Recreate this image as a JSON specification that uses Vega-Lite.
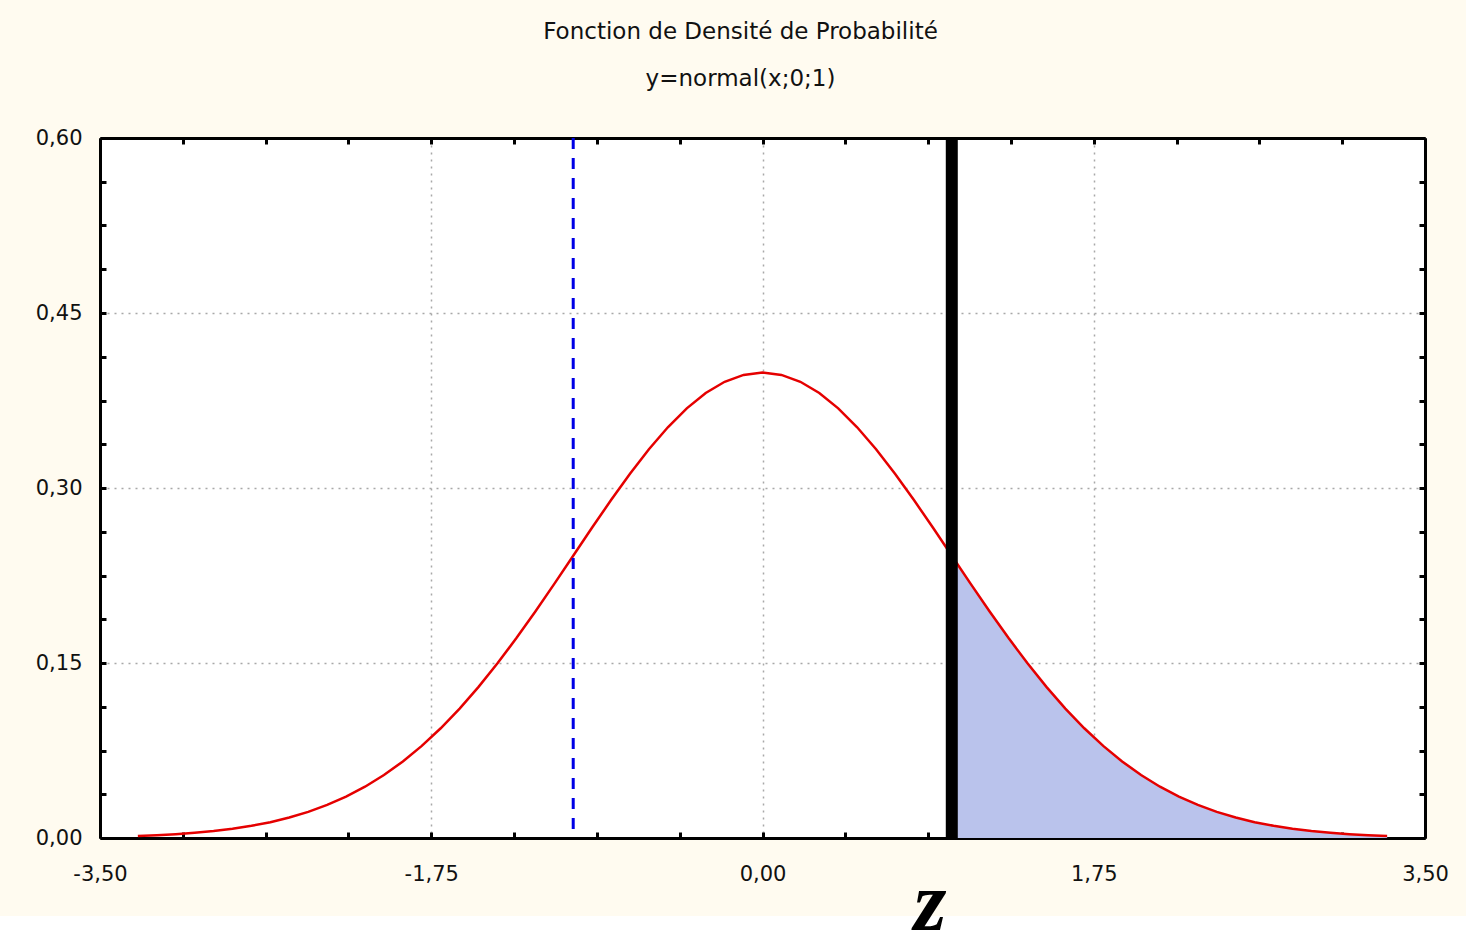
{
  "$schema": "https://vega.github.io/schema/vega-lite/v6.json",
  "width": 1325,
  "height": 700,
  "autosize": "none",
  "padding": {"left": 100, "top": 138, "right": 41, "bottom": 113},
  "background": "#fffbf0",
  "config": {
    "view": {"stroke": null, "fill": "#ffffff"},
    "font": "DejaVu Sans"
  },
  "title": {
    "text": "Fonction de Densité de Probabilité",
    "subtitle": "y=normal(x;0;1)",
    "font": "DejaVu Sans",
    "fontSize": 23,
    "fontWeight": "normal",
    "color": "#111111",
    "subtitleFont": "DejaVu Sans",
    "subtitleFontSize": 23,
    "subtitleColor": "#111111",
    "subtitlePadding": 24,
    "anchor": "middle",
    "offset": 36,
    "dx": -22
  },
  "datasets": {
    "curve": [
      {"x": -3.3, "y": 0.00172}, {"x": -3.2, "y": 0.00238}, {"x": -3.1, "y": 0.00327}, {"x": -3.0, "y": 0.00443},
      {"x": -2.9, "y": 0.00595}, {"x": -2.8, "y": 0.00792}, {"x": -2.7, "y": 0.01042}, {"x": -2.6, "y": 0.01358},
      {"x": -2.5, "y": 0.01753}, {"x": -2.4, "y": 0.02239}, {"x": -2.3, "y": 0.02833}, {"x": -2.2, "y": 0.03547},
      {"x": -2.1, "y": 0.04398}, {"x": -2.0, "y": 0.05399}, {"x": -1.9, "y": 0.06562}, {"x": -1.8, "y": 0.07895},
      {"x": -1.7, "y": 0.09405}, {"x": -1.6, "y": 0.11092}, {"x": -1.5, "y": 0.12952}, {"x": -1.4, "y": 0.14973},
      {"x": -1.3, "y": 0.17137}, {"x": -1.2, "y": 0.19419}, {"x": -1.1, "y": 0.21785}, {"x": -1.0, "y": 0.24197},
      {"x": -0.9, "y": 0.26609}, {"x": -0.8, "y": 0.28969}, {"x": -0.7, "y": 0.31225}, {"x": -0.6, "y": 0.33322},
      {"x": -0.5, "y": 0.35207}, {"x": -0.4, "y": 0.36827}, {"x": -0.3, "y": 0.38139}, {"x": -0.2, "y": 0.39104},
      {"x": -0.1, "y": 0.39695}, {"x": 0.0, "y": 0.39894}, {"x": 0.1, "y": 0.39695}, {"x": 0.2, "y": 0.39104},
      {"x": 0.3, "y": 0.38139}, {"x": 0.4, "y": 0.36827}, {"x": 0.5, "y": 0.35207}, {"x": 0.6, "y": 0.33322},
      {"x": 0.7, "y": 0.31225}, {"x": 0.8, "y": 0.28969}, {"x": 0.9, "y": 0.26609}, {"x": 1.0, "y": 0.24197},
      {"x": 1.1, "y": 0.21785}, {"x": 1.2, "y": 0.19419}, {"x": 1.3, "y": 0.17137}, {"x": 1.4, "y": 0.14973},
      {"x": 1.5, "y": 0.12952}, {"x": 1.6, "y": 0.11092}, {"x": 1.7, "y": 0.09405}, {"x": 1.8, "y": 0.07895},
      {"x": 1.9, "y": 0.06562}, {"x": 2.0, "y": 0.05399}, {"x": 2.1, "y": 0.04398}, {"x": 2.2, "y": 0.03547},
      {"x": 2.3, "y": 0.02833}, {"x": 2.4, "y": 0.02239}, {"x": 2.5, "y": 0.01753}, {"x": 2.6, "y": 0.01358},
      {"x": 2.7, "y": 0.01042}, {"x": 2.8, "y": 0.00792}, {"x": 2.9, "y": 0.00595}, {"x": 3.0, "y": 0.00443},
      {"x": 3.1, "y": 0.00327}, {"x": 3.2, "y": 0.00238}, {"x": 3.3, "y": 0.00172}
    ],
    "one": [{}]
  },
  "layer": [
    {
      "data": {"name": "curve"},
      "transform": [{"filter": "datum.x >= 1"}],
      "mark": {"type": "area", "color": "#bac3ec", "opacity": 1},
      "encoding": {
        "x": {
          "field": "x", "type": "quantitative",
          "scale": {"domain": [-3.5, 3.5], "nice": false, "zero": false},
          "axis": {
            "orient": "top", "title": null, "labels": false, "grid": false,
            "values": [-3.5, -3.0625, -2.625, -2.1875, -1.75, -1.3125, -0.875, -0.4375, 0, 0.4375, 0.875, 1.3125, 1.75, 2.1875, 2.625, 3.0625, 3.5],
            "domainColor": "#000000", "domainWidth": 3,
            "tickColor": "#000000", "tickWidth": 3, "tickSize": -6
          }
        },
        "y": {
          "field": "y", "type": "quantitative",
          "scale": {"domain": [0, 0.6], "nice": false, "zero": false},
          "axis": {
            "orient": "right", "title": null, "labels": false, "grid": false,
            "values": [0, 0.0375, 0.075, 0.1125, 0.15, 0.1875, 0.225, 0.2625, 0.3, 0.3375, 0.375, 0.4125, 0.45, 0.4875, 0.525, 0.5625, 0.6],
            "domainColor": "#000000", "domainWidth": 3,
            "tickColor": "#000000", "tickWidth": 3, "tickSize": -6
          }
        }
      }
    },
    {
      "data": {"name": "curve"},
      "mark": {"type": "line", "color": "#e50000", "strokeWidth": 2.5},
      "encoding": {
        "x": {
          "field": "x", "type": "quantitative",
          "axis": {
            "orient": "bottom", "title": null,
            "values": [-3.5, -3.0625, -2.625, -2.1875, -1.75, -1.3125, -0.875, -0.4375, 0, 0.4375, 0.875, 1.3125, 1.75, 2.1875, 2.625, 3.0625, 3.5],
            "labelExpr": "abs(datum.value/1.75 - round(datum.value/1.75)) < 1e-6 ? replace(replace(format(datum.value, '.2f'), '.', ','), '\u2212', '-') : ''",
            "labelFont": "DejaVu Sans", "labelFontSize": 21, "labelColor": "#111111", "labelPadding": 31,
            "labelFlush": false,
            "grid": true, "gridColor": "#a8a8a8", "gridDash": [2, 5], "gridWidth": 1.5,
            "gridOpacity": {"condition": {"test": "abs(datum.value/1.75 - round(datum.value/1.75)) < 1e-6", "value": 1}, "value": 0},
            "domainColor": "#000000", "domainWidth": 3,
            "tickColor": "#000000", "tickWidth": 3, "tickSize": -6
          }
        },
        "y": {
          "field": "y", "type": "quantitative",
          "axis": {
            "orient": "left", "title": null,
            "values": [0, 0.0375, 0.075, 0.1125, 0.15, 0.1875, 0.225, 0.2625, 0.3, 0.3375, 0.375, 0.4125, 0.45, 0.4875, 0.525, 0.5625, 0.6],
            "labelExpr": "abs(datum.value/0.15 - round(datum.value/0.15)) < 1e-6 ? replace(format(datum.value, '.2f'), '.', ',') : ''",
            "labelFont": "DejaVu Sans", "labelFontSize": 21, "labelColor": "#111111", "labelPadding": 24,
            "labelFlush": false,
            "grid": true, "gridColor": "#a8a8a8", "gridDash": [2, 5], "gridWidth": 1.5,
            "gridOpacity": {"condition": {"test": "abs(datum.value/0.15 - round(datum.value/0.15)) < 1e-6", "value": 1}, "value": 0},
            "domainColor": "#000000", "domainWidth": 3,
            "tickColor": "#000000", "tickWidth": 3, "tickSize": -6
          }
        }
      }
    },
    {
      "data": {"name": "one"},
      "mark": {"type": "rule", "color": "#0000e6", "strokeWidth": 3, "strokeDash": [11, 9]},
      "encoding": {"x": {"datum": -1, "type": "quantitative", "axis": null}}
    },
    {
      "data": {"name": "one"},
      "mark": {"type": "rule", "color": "#000000", "strokeWidth": 12},
      "encoding": {"x": {"datum": 1, "type": "quantitative", "axis": null}}
    },
    {
      "data": {"name": "one"},
      "mark": {"type": "rect", "color": "#ffffff", "clip": false},
      "encoding": {
        "x": {"datum": -4.2, "type": "quantitative", "axis": null},
        "x2": {"datum": 4.2},
        "y": {"datum": -0.0669, "type": "quantitative", "axis": null},
        "y2": {"datum": -0.2}
      }
    },
    {
      "data": {"name": "one"},
      "mark": {"type": "text", "text": "z", "font": "Liberation Serif", "fontStyle": "italic", "fontWeight": "bold", "fontSize": 84, "baseline": "bottom", "align": "center", "color": "#000000", "clip": false},
      "encoding": {
        "x": {"datum": 0.885, "type": "quantitative", "axis": null},
        "y": {"datum": -0.0943, "type": "quantitative", "axis": null}
      }
    }
  ],
  "resolve": {"axis": {"x": "independent", "y": "independent"}}
}
